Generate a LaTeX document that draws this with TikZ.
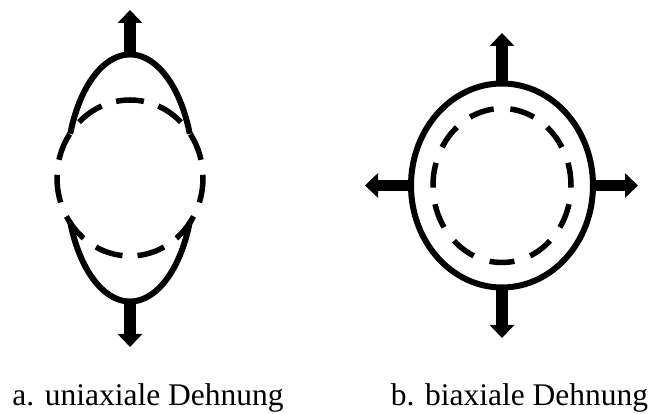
\documentclass[tikz,border=0pt]{standalone}
\usepackage{fontspec}
\setmainfont{Liberation Serif}
\usetikzlibrary{arrows.meta}
\begin{document}
\begin{tikzpicture}[x=1pt,y=1pt,
  outline/.style={line width=6pt},
  original/.style={line width=5.5pt},
  pull/.style={line width=11.5pt,-{Triangle[length=13pt,width=24pt]}},
  caption/.style={anchor=base,inner sep=0pt,font=\fontsize{31.5}{36}\selectfont}]
\useasboundingbox (0,0) rectangle (651,414);

% ---- uniaxial: circle stretched into a vertical ellipse
\coordinate (ua) at (130,236);
\draw[original,dash pattern=on 28pt off 15.14pt,dash phase=14pt]
  (130,314) arc[start angle=90,end angle=450,x radius=73,y radius=78];
% only the parts of the stretched outline that lie outside the circle
\draw[outline] (ua) ++(21:64 and 123.5)
  arc[start angle=21,end angle=159,x radius=64,y radius=123.5];
\draw[outline] (ua) ++(201:64 and 123.5)
  arc[start angle=201,end angle=339,x radius=64,y radius=123.5];
\coordinate (uaN) at (130,359.5);
\coordinate (uaS) at (130,111.5);
\coordinate (uaNtip) at (130,404);
\coordinate (uaStip) at (130,67);
\draw[pull] (uaN) -- (uaNtip);
\draw[pull] (uaS) -- (uaStip);

% ---- biaxial: circle grown in both directions
\coordinate (bi) at (502,228.5);
\draw[original,dash pattern=on 25pt off 16.73pt,dash phase=33.36pt]
  (502,305.5) arc[start angle=90,end angle=450,x radius=69,y radius=77];
\draw[outline] (bi) ellipse[x radius=91,y radius=102];
\coordinate (biN) at (502,330.5);
\coordinate (biS) at (502,126.5);
\coordinate (biW) at (411,228.5);
\coordinate (biE) at (593,228.5);
\coordinate (biNtip) at (502,381);
\coordinate (biStip) at (502,76);
\coordinate (biWtip) at (365,228.5);
\coordinate (biEtip) at (638,228.5);
\draw[pull] (biN) -- (biNtip);
\draw[pull] (biS) -- (biStip);
\draw[pull] (biW) -- (biWtip);
\draw[pull] (biE) -- (biEtip);

% ---- captions
\node[caption] (capA) at (148,8) {a. uniaxiale Dehnung};
\node[caption] (capB) at (519.5,8) {b. biaxiale Dehnung};
\end{tikzpicture}
\end{document}
